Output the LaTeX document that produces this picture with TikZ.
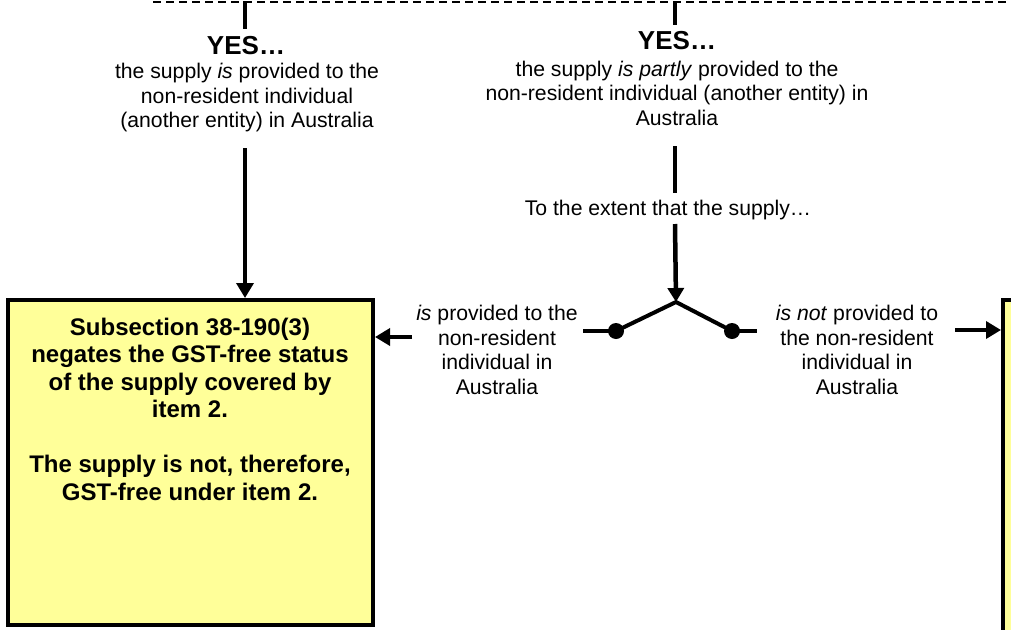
\documentclass[tikz,border=0pt]{standalone}
\usepackage{fontspec}
\setmainfont{Liberation Sans}
\usetikzlibrary{arrows.meta}
\definecolor{boxyellow}{RGB}{255,255,153}
\begin{document}
\begin{tikzpicture}[x=1pt,y=-1pt,
  body/.style={align=center, font=\fontsize{21.2}{24.5}\selectfont, inner sep=0pt},
  yes/.style={font=\fontsize{26}{30}\selectfont\bfseries, inner sep=0pt},
  boxtxt/.style={align=center, font=\fontsize{24}{27.5}\selectfont\bfseries, inner sep=0pt},
  ybox/.style={draw, line width=4pt, fill=boxyellow, inner sep=0pt, outer sep=0pt, anchor=north west},
  flow/.style={line width=3.5pt, -{Triangle[length=15pt,width=17pt]}},
  stem/.style={line width=4.5pt},
  fork/.style={line width=4pt, line join=round},
  topline/.style={line width=2pt, dash pattern=on 8pt off 5pt},
  dot/.style={circle, fill=black, inner sep=0pt, minimum size=16pt}
]
\useasboundingbox (0,0) rectangle (1011,629);
\clip (0,0) rectangle (1011,629);

% boxes
\node[ybox, minimum width=365pt, minimum height=325pt] (leftbox) at (8,300) {};
\node[ybox, minimum width=80pt, minimum height=400pt] (rightbox) at (1003,300) {};

% top dashed line and stubs
\coordinate (dashL) at (153,2);
\coordinate (dashR) at (1015,2);
\draw[topline] (dashL) -- (dashR);
\coordinate (s1a) at (245,1);
\coordinate (s1b) at (245,29);
\coordinate (s2a) at (675,1);
\coordinate (s2b) at (675,25);
\draw[stem] (s1a) -- (s1b);
\draw[stem] (s2a) -- (s2b);

% texts
\node[yes] (yesL) at (246,46) {YES…};
\node[body] (txtL) at (247,98) {the supply \textit{is} provided to the\\non-resident individual\\(another entity) in Australia};
\node[yes] (yesM) at (677,41) {YES…};
\node[body] (txtM) at (677,93) {the supply \textit{is partly} provided to the\\non-resident individual (another entity) in\\Australia};
\node[body] (extent) at (668,210) {To the extent that the supply…};
\node[body] (lblL) at (497,350) {\textit{is} provided to the\\non-resident\\individual in\\Australia};
\node[body] (lblR) at (857,350) {\textit{is not} provided to\\the non-resident\\individual in\\Australia};
\node[boxtxt] (boxtext) at (190,409) {Subsection 38-190(3)\\negates the GST-free status\\of the supply covered by\\item 2.\\[27.5pt]The supply is not, therefore,\\GST-free under item 2.};

% left arrow
\coordinate (la) at (245,148);
\draw[flow, shorten >=2pt] (la) -- (la |- leftbox.north);

% middle stem and fork
\coordinate (m1) at (675,146);
\coordinate (m2) at (675,193);
\coordinate (m3) at (675,224);
\coordinate (junc) at (676,302);
\draw[stem] (m1) -- (m2);
\draw[stem, -{Triangle[length=14pt,width=16pt]}] (m3) -- (junc);
\node[dot] (dotL) at (616,331) {};
\node[dot] (dotR) at (732,331) {};
\draw[fork] (dotL.center) -- (junc) -- (dotR.center);
\coordinate (stubL) at (583,331);
\coordinate (stubR) at (757,331);
\draw[fork] (stubL) -- (dotL.center);
\draw[fork] (dotR.center) -- (stubR);

% side arrows
\coordinate (al) at (412,337);
\draw[flow, shorten >=2pt] (al) -- (al -| leftbox.east);
\coordinate (ar) at (955,330);
\draw[flow, shorten >=2pt] (ar) -- (ar -| rightbox.west);
\end{tikzpicture}
\end{document}
